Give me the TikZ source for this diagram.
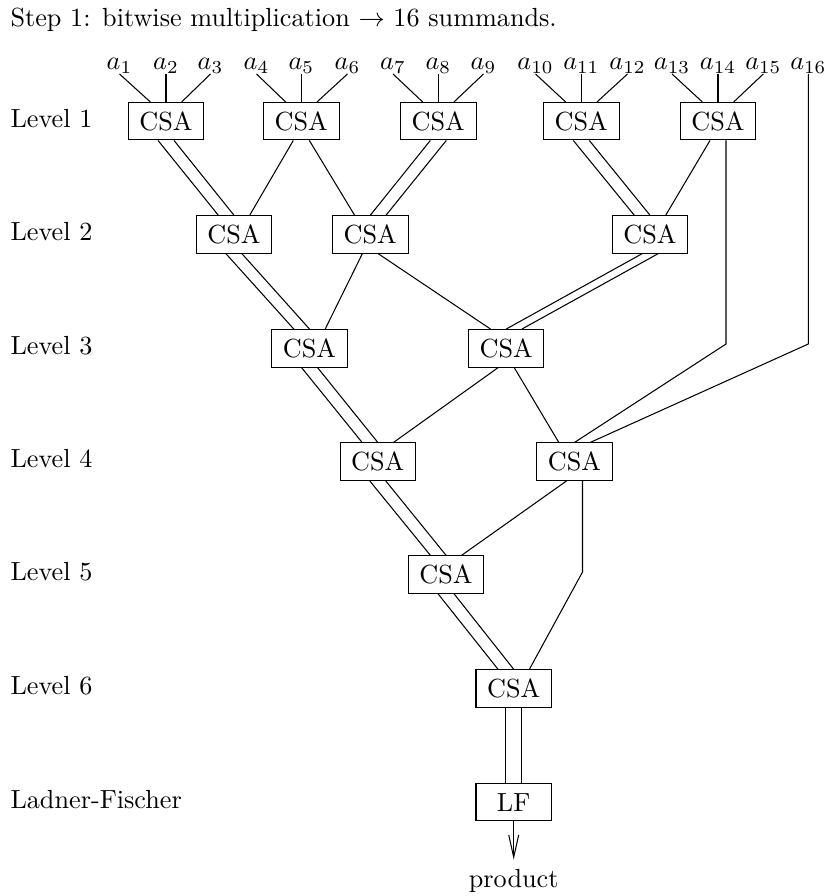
\documentclass[tikz,border=0pt]{standalone}
\usetikzlibrary{calc,arrows.meta}
\newcommand\csabox[4]{%
  \node[csa] (#1) at (#2,#3) {#4};
  \coordinate (#1-i1) at ($(#1.north)+(-15.7,0)$);
  \coordinate (#1-i2) at (#1.north);
  \coordinate (#1-i3) at ($(#1.north)+(15.7,0)$);
  \coordinate (#1-o1) at ($(#1.south)+(-8,0)$);
  \coordinate (#1-o2) at ($(#1.south)+(8,0)$);
}
\begin{document}
\begin{tikzpicture}[x=0.3817pt,y=-0.3817pt,
  csa/.style={draw, minimum width=28.8pt, minimum height=14.3pt, inner sep=0pt},
  lbl/.style={anchor=base west, inner sep=0pt},
  anode/.style={anchor=south, inner sep=0pt},
  wire/.style={draw, line join=miter}]
\useasboundingbox (0,0) rectangle (826,896);

\node[lbl] (title) at (10,27) {Step 1: bitwise multiplication $\rightarrow$ 16 summands.};

\node[lbl] (lev1) at (10,127.2) {Level 1};
\node[lbl] (lev2) at (10,240.5) {Level 2};
\node[lbl] (lev3) at (10,354.3) {Level 3};
\node[lbl] (lev4) at (10,467.7) {Level 4};
\node[lbl] (lev5) at (10,580.5) {Level 5};
\node[lbl] (lev6) at (10,694.5) {Level 6};
\node[lbl] (levlf) at (10,808.2) {Ladner-Fischer};

% inputs
\node[anode] (a1)  at (119.5,74) {$a_{1}$};
\node[anode] (a2)  at (166,74)   {$a_{2}$};
\node[anode] (a3)  at (210.5,74) {$a_{3}$};
\node[anode] (a4)  at (256.5,74) {$a_{4}$};
\node[anode] (a5)  at (301.3,74) {$a_{5}$};
\node[anode] (a6)  at (347.5,74) {$a_{6}$};
\node[anode] (a7)  at (393,74)   {$a_{7}$};
\node[anode] (a8)  at (438.3,74) {$a_{8}$};
\node[anode] (a9)  at (483.5,74) {$a_{9}$};
\node[anode] (a10) at (535.5,74) {$a_{10}$};
\node[anode] (a11) at (581.3,74) {$a_{11}$};
\node[anode] (a12) at (627.5,74) {$a_{12}$};
\node[anode] (a13) at (672,74)   {$a_{13}$};
\node[anode] (a14) at (718,74)   {$a_{14}$};
\node[anode] (a15) at (763.3,74) {$a_{15}$};
\node[anode] (a16) at (808.3,74) {$a_{16}$};

% CSA boxes
\csabox{L1a}{166}{121.2}{CSA}
\csabox{L1b}{301.3}{121.2}{CSA}
\csabox{L1c}{438.3}{121.2}{CSA}
\csabox{L1d}{581.3}{121.2}{CSA}
\csabox{L1e}{718}{121.2}{CSA}
\csabox{L2a}{234}{234.5}{CSA}
\csabox{L2b}{370.3}{234.5}{CSA}
\csabox{L2c}{650}{234.5}{CSA}
\csabox{L3a}{309.5}{348.3}{CSA}
\csabox{L3b}{506.2}{348.3}{CSA}
\csabox{L4a}{377.8}{461.7}{CSA}
\csabox{L4b}{574.5}{461.7}{CSA}
\csabox{L5}{446}{574.5}{CSA}
\csabox{L6}{513.7}{688.5}{CSA}
\csabox{LF}{513.7}{802.2}{LF}

\node[inner sep=3.33pt] (product) at (513.7,880.5) {product};

\coordinate (bendA) at (726,344);
\coordinate (bendB) at (808.3,344);
\coordinate (bendC) at (582.5,572);

% level 1 inputs
\foreach \a/\b in {a1/L1a-i1,a2/L1a-i2,a3/L1a-i3,a4/L1b-i1,a5/L1b-i2,a6/L1b-i3,
                   a7/L1c-i1,a8/L1c-i2,a9/L1c-i3,a10/L1d-i1,a11/L1d-i2,a12/L1d-i3,
                   a13/L1e-i1,a14/L1e-i2,a15/L1e-i3}
  \draw[wire] (\a.south) -- (\b);

% wiring
\foreach \s/\t in {L1a-o1/L2a-i1,L1a-o2/L2a-i2,L1b-o1/L2a-i3,L1b-o2/L2b-i1,
                   L1c-o1/L2b-i2,L1c-o2/L2b-i3,L1d-o1/L2c-i1,L1d-o2/L2c-i2,
                   L1e-o1/L2c-i3,
                   L2a-o1/L3a-i1,L2a-o2/L3a-i2,L2b-o1/L3a-i3,L2b-o2/L3b-i1,
                   L2c-o1/L3b-i2,L2c-o2/L3b-i3,
                   L3a-o1/L4a-i1,L3a-o2/L4a-i2,L3b-o1/L4a-i3,L3b-o2/L4b-i1,
                   L4a-o1/L5-i1,L4a-o2/L5-i2,L4b-o1/L5-i3,
                   L5-o1/L6-i1,L5-o2/L6-i2}
  \draw[wire] (\s) -- (\t);

\draw[wire] (L1e-o2) -- (bendA) -- (L4b-i2);
\draw[wire] (a16.south) -- (bendB) -- (L4b-i3);
\draw[wire] (L4b-o2) -- (bendC) -- (L6-i3);

\draw[wire] (L6-o1) -- (L6-o1 |- LF.north);
\draw[wire] (L6-o2) -- (L6-o2 |- LF.north);

\draw[-{Straight Barb[length=8.5pt,width=3.8pt]}] (LF) -- (product);
\end{tikzpicture}
\end{document}
